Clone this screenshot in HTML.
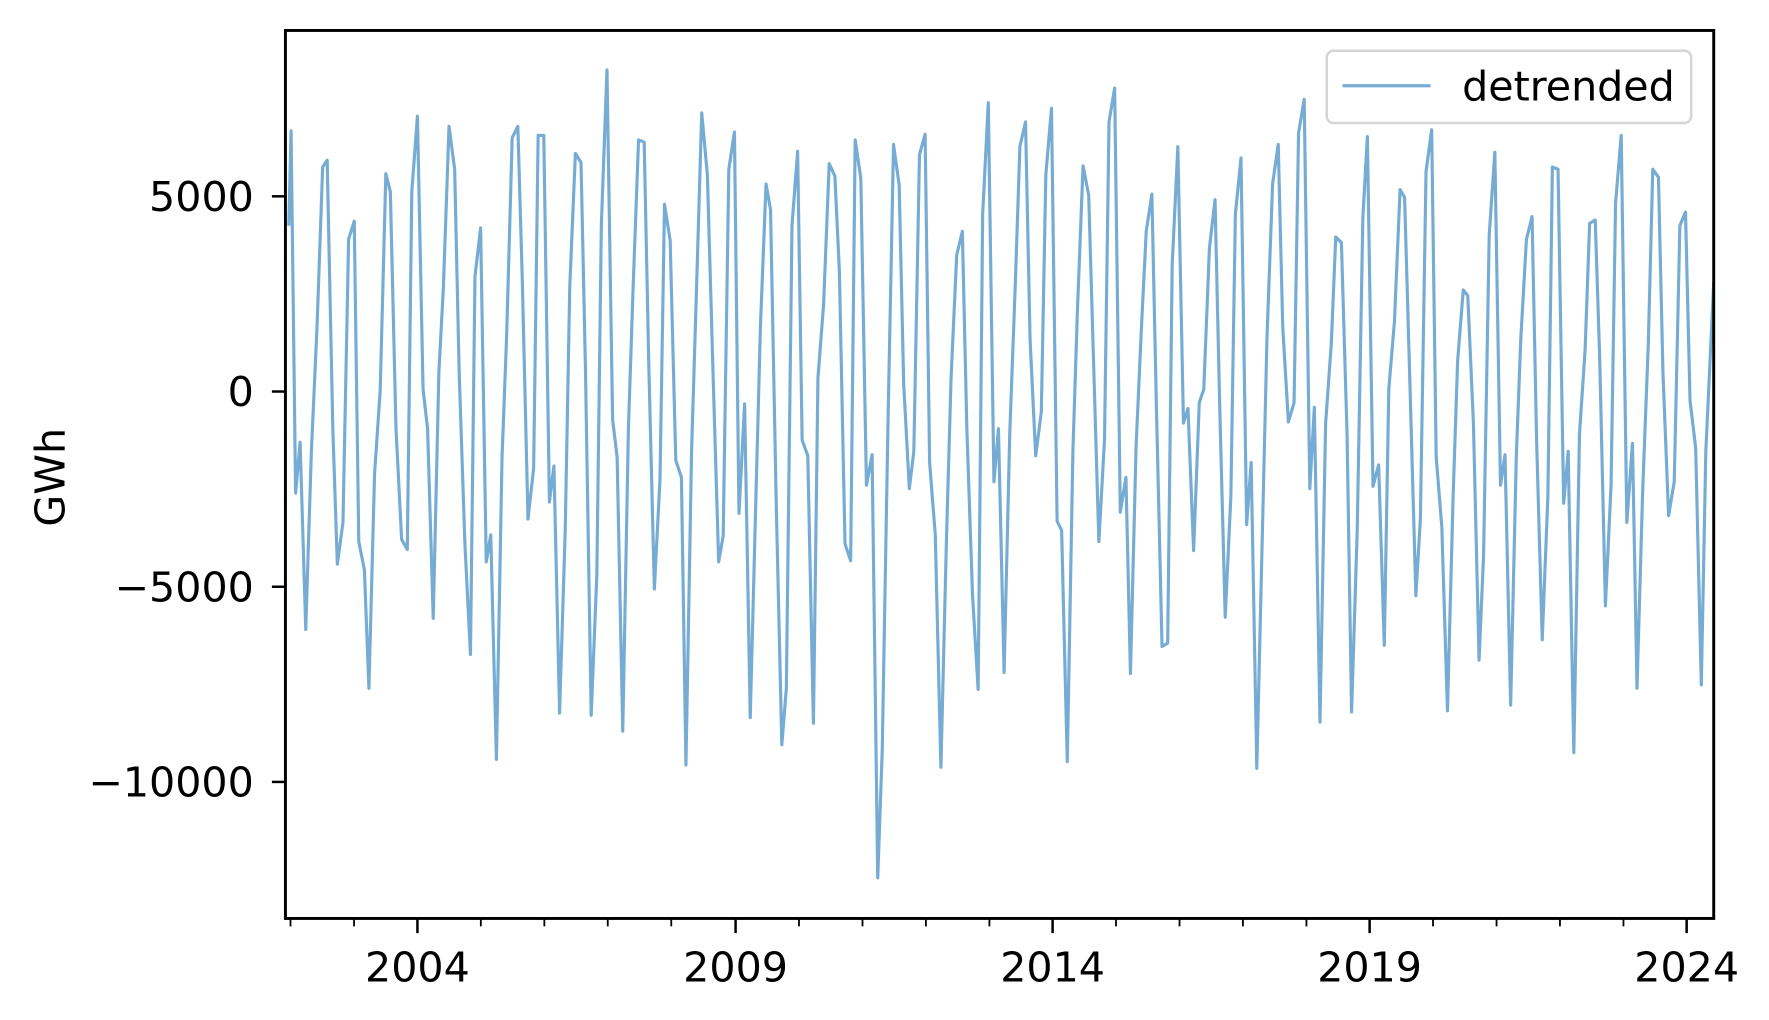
<!DOCTYPE html>
<html><head><meta charset="utf-8"><style>html,body{margin:0;padding:0;background:#fff}svg{display:block}</style></head>
<body>
<svg width="1769" height="1020" viewBox="0 0 1568 904" preserveAspectRatio="none" xmlns="http://www.w3.org/2000/svg" font-family="'DejaVu Sans','Liberation Sans',sans-serif">
<rect width="1568" height="904" fill="#fff"/>
<defs><clipPath id="c"><rect x="253" y="27" width="1266" height="787"/></clipPath></defs>
<polyline clip-path="url(#c)" fill="none" stroke="#76acd3" stroke-width="2.8" stroke-linejoin="round" points="256,200 258,116 262,437 266,392 271,558 276,400 281,290 286,148 290,142 295,380 299,500 304,463 309,212 314,196 318,480 323,505 327,610 332,420 337,346 342,154 346,170 351,380 356,478 361,487 365,170 370,103 375,345 379,380 384,548 389,330 393,255 398,112 403,150 407,330 412,480 417,580 421,245 426,202 431,498 435,474 440,673 445,405 449,300 454,122 459,112 463,250 468,460 473,415 477,120 482,120 487,445 491,413 496,632 501,470 505,255 510,136 515,144 519,330 524,634 529,510 533,200 538,62 543,372 547,405 552,648 557,380 561,260 566,124 571,126 575,320 580,522 585,425 589,181 594,213 599,408 604,423 608,678 613,400 618,235 622,100 627,155 632,330 637,498 641,475 646,150 651,117 655,455 660,358 665,636 669,480 674,290 679,163 683,186 688,445 693,660 697,610 702,200 707,134 711,390 716,404 721,641 725,335 730,270 735,145 740,156 744,240 749,482 754,497 758,124 763,158 768,430 773,403 778,778 782,665 787,380 792,128 797,164 801,340 806,433 810,400 815,137 820,119 824,410 829,474 834,680 839,475 843,335 848,226 853,205 857,380 862,527 867,611 871,190 876,91 881,427 885,380 890,596 895,385 900,250 904,130 909,108 913,300 918,404 923,365 927,155 932,96 937,462 941,470 946,675 951,400 955,275 960,147 965,173 969,310 974,480 979,390 983,108 988,78 993,454 998,423 1002,597 1007,395 1012,285 1016,205 1021,172 1025,360 1030,573 1035,570 1039,235 1044,130 1049,375 1053,362 1058,488 1063,357 1067,345 1072,220 1077,177 1081,355 1086,547 1091,440 1095,190 1100,140 1105,465 1109,410 1114,681 1119,470 1123,300 1128,163 1133,128 1137,290 1142,374 1147,357 1151,118 1156,88 1161,433 1165,361 1170,640 1175,375 1180,305 1184,210 1189,215 1194,385 1198,631 1203,470 1208,193 1212,121 1217,431 1222,412 1227,572 1231,345 1236,285 1241,168 1245,175 1250,350 1255,528 1259,460 1264,152 1269,115 1273,405 1278,467 1283,630 1288,440 1292,320 1297,257 1301,262 1306,375 1311,585 1315,492 1320,208 1325,135 1330,430 1334,403 1339,625 1344,405 1348,300 1353,212 1358,192 1362,390 1367,567 1372,440 1376,148 1381,150 1386,446 1390,400 1395,667 1400,385 1405,310 1409,198 1414,195 1418,320 1423,537 1428,430 1432,180 1437,120 1442,463 1447,393 1451,610 1456,436 1461,305 1465,150 1470,157 1474,330 1479,457 1484,427 1489,200 1494,188 1498,355 1503,397 1508,607 1512,400 1519,250"/>
<rect x="253" y="27" width="1266" height="787" fill="none" stroke="#000" stroke-width="2.6"/>
<g stroke="#000" stroke-width="2.2">
<line x1="253" y1="174" x2="241" y2="174"/><line x1="253" y1="347" x2="241" y2="347"/><line x1="253" y1="520" x2="241" y2="520"/><line x1="253" y1="693" x2="241" y2="693"/>
<line x1="370" y1="814" x2="370" y2="827"/><line x1="652" y1="814" x2="652" y2="827"/><line x1="933" y1="814" x2="933" y2="827"/><line x1="1214" y1="814" x2="1214" y2="827"/><line x1="1495" y1="814" x2="1495" y2="827"/>
</g>
<g stroke="#000" stroke-width="1.6">
<line x1="257.5" y1="814" x2="257.5" y2="821"/><line x1="313.8" y1="814" x2="313.8" y2="821"/><line x1="426.2" y1="814" x2="426.2" y2="821"/><line x1="482.5" y1="814" x2="482.5" y2="821"/><line x1="538.7" y1="814" x2="538.7" y2="821"/><line x1="595" y1="814" x2="595" y2="821"/><line x1="708.2" y1="814" x2="708.2" y2="821"/><line x1="764.5" y1="814" x2="764.5" y2="821"/><line x1="820.7" y1="814" x2="820.7" y2="821"/><line x1="877" y1="814" x2="877" y2="821"/><line x1="989.2" y1="814" x2="989.2" y2="821"/><line x1="1045.5" y1="814" x2="1045.5" y2="821"/><line x1="1101.7" y1="814" x2="1101.7" y2="821"/><line x1="1158" y1="814" x2="1158" y2="821"/><line x1="1270.2" y1="814" x2="1270.2" y2="821"/><line x1="1326.5" y1="814" x2="1326.5" y2="821"/><line x1="1382.7" y1="814" x2="1382.7" y2="821"/><line x1="1439" y1="814" x2="1439" y2="821"/>
</g>
<g font-size="36.5" fill="#000" text-anchor="end">
<text x="225" y="187">5000</text><text x="225" y="360">0</text><text x="225" y="533">−5000</text><text x="225" y="706">−10000</text>
</g>
<g font-size="36.5" fill="#000" text-anchor="middle">
<text x="370" y="870">2004</text><text x="652" y="870">2009</text><text x="933" y="870">2014</text><text x="1214" y="870">2019</text><text x="1495" y="870">2024</text>
</g>
<text font-size="36.5" text-anchor="middle" transform="translate(57,423) rotate(-90)">GWh</text>
<rect x="1176" y="45" width="323" height="64" rx="6" fill="#fff" fill-opacity="0.8" stroke="#d5d5d5" stroke-width="2.2"/>
<line x1="1190" y1="76" x2="1268" y2="76" stroke="#76acd3" stroke-width="2.8"/>
<text x="1296" y="89" font-size="36.5">detrended</text>
</svg>
</body></html>
